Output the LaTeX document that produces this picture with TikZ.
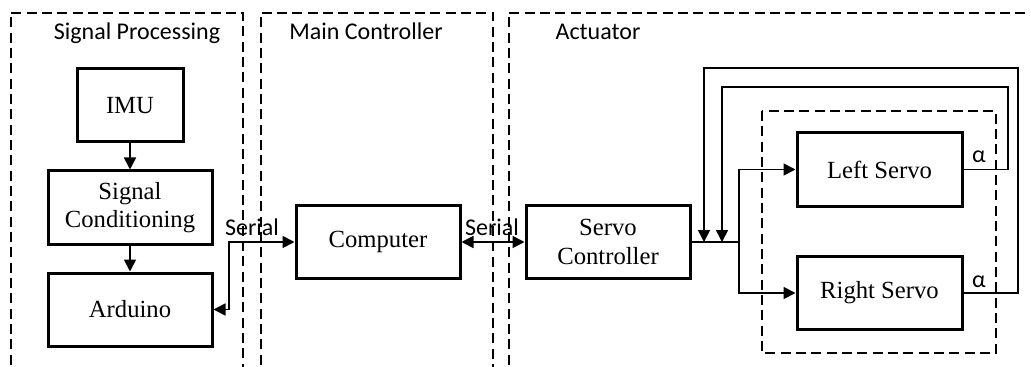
\documentclass[tikz,border=0pt]{standalone}
\usepackage{fontspec}
\setmainfont{Liberation Serif}
\newfontfamily\calfont{Carlito}
\usetikzlibrary{arrows.meta}
\tikzset{
  blk/.style={draw, line width=2.25pt, inner sep=0pt, minimum height=54.75pt, align=center,
    font=\fontsize{18.5}{21.5}\selectfont},
  grp/.style={draw, line width=1.5pt, dash pattern=on 7.5pt off 4pt},
  conn/.style={line width=1.3pt},
  arr/.style={conn, -{Triangle[length=9pt,width=9pt]}},
  barr/.style={conn, {Triangle[length=9pt,width=9pt]}-{Triangle[length=9pt,width=9pt]}},
  ttl/.style={anchor=base, inner sep=0pt, font=\calfont\fontsize{18}{21}\selectfont},
}
\begin{document}
\begin{tikzpicture}[x=0.75pt,y=-0.75pt]
\useasboundingbox (0,0) rectangle (1031,367);
% group boxes
\draw[grp] (10.7,380) -- (10.7,12.7) -- (243,12.7) -- (243,380);
\draw[grp] (261,380) -- (261,12.7) -- (493,12.7) -- (493,380);
\draw[grp] (508.5,380) -- (508.5,12.7) -- (1045,12.7);
\draw[grp] (762,111) rectangle (996,353);
% titles
\node[ttl] (tsp) at (137,40) {Signal Processing};
\node[ttl] (tmc) at (366,40) {Main Controller};
\node[ttl] (tac) at (598,40) {Actuator};
% blocks
\node[blk, minimum width=79.5pt] (imu) at (130,105.5) {IMU};
\node[blk, minimum width=123pt] (sc) at (130,207.5) {Signal\\Conditioning};
\node[blk, minimum width=123pt] (ard) at (130,309.5) {Arduino};
\node[blk, minimum width=123pt] (comp) at (378,242) {Computer};
\node[blk, minimum width=123pt] (svc) at (608,242) {Servo\\Controller};
\node[blk, minimum width=123.75pt] (ls) at (879.5,169.5) {Left Servo};
\node[blk, minimum width=123.75pt] (rs) at (879.5,293) {Right Servo};
% connectors
\draw[arr] (imu) -- (sc);
\draw[arr] (sc) -- (ard);
\draw[barr] (ard.east) -- (229,309.5) |- (comp.west);
\draw[barr] (comp.east) -- (svc.west);
\node[ttl] (ser1) at (252,235) {Serial};
\node[ttl] (ser2) at (492,235) {Serial};
\coordinate (split) at (739,242);
\coordinate (fb1) at (722,242);
\coordinate (fb2) at (704,242);
\draw[conn] (svc.east) -- (split);
\draw[arr] (split) |- (ls.west);
\draw[arr] (split) |- (rs.west);
\draw[arr] (ls.east) -| (1008,87) -| (fb1);
\draw[arr] (rs.east) -| (1018,68) -| (fb2);
\node[ttl] (a1) at (979,162) {α};
\node[ttl] (a2) at (979,287) {α};
\end{tikzpicture}
\end{document}
